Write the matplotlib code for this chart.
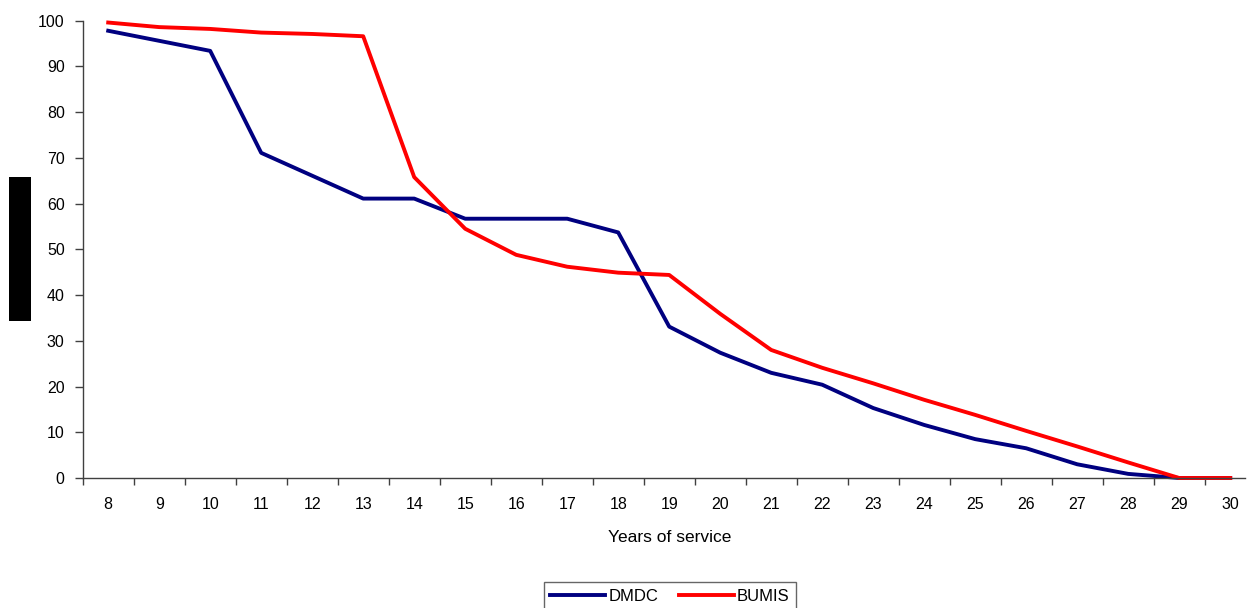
import matplotlib
matplotlib.use("Agg")
import matplotlib.pyplot as plt
from matplotlib.patches import Rectangle

years = [str(y) for y in range(8, 31)]
dmdc = [97.8, 95.6, 93.4, 71.1, 66.1, 61.1, 61.1, 56.7, 56.7, 56.7, 53.7, 33.1,
        27.4, 23.0, 20.4, 15.3, 11.6, 8.5, 6.5, 3.0, 0.9, 0.0, 0.0]
bumis = [99.6, 98.6, 98.2, 97.4, 97.1, 96.6, 65.8, 54.5, 48.8, 46.2, 44.9, 44.4,
         35.9, 28.0, 24.1, 20.7, 17.1, 13.8, 10.3, 6.9, 3.4, 0.0, 0.0]
yticks = list(range(0, 101, 10))

plt.rcParams['font.family'] = ['Liberation Sans', 'DejaVu Sans']

W, H = 1252, 608
fig = plt.figure(figsize=(W / 100, H / 100), dpi=100)
left, right, top, bottom = 82.7, 1245, 20.7, 478
ax = fig.add_axes([left / W, 1 - bottom / H, (right - left) / W, (bottom - top) / H])

x = list(range(len(years)))
ax.plot(x, dmdc, color='#000080', lw=2.8, label='DMDC', clip_on=False, solid_joinstyle='round')
ax.plot(x, bumis, color='#FF0000', lw=2.8, label='BUMIS', clip_on=False, solid_joinstyle='round')

ax.set_yticks(yticks)
ax.set_yticklabels([str(v) for v in yticks], fontsize=11.5)
ax.set_xticks(x)
ax.set_xticklabels(years, fontsize=11.5)
ax.set_xticks([i - 0.5 for i in range(len(years) + 1)], minor=True)
ax.set_ylim(0, 100)
ax.set_xlim(-0.5, 22.29)
ax.tick_params(axis='x', which='major', length=0, pad=14)
ax.tick_params(axis='x', which='minor', length=5, width=1, color='#404040')
ax.tick_params(axis='y', length=6, width=1, color='#404040', pad=7)

for s in ['top', 'right']:
    ax.spines[s].set_visible(False)
for s in ['left', 'bottom']:
    ax.spines[s].set_color('#404040')
    ax.spines[s].set_linewidth(1)

fig.text(670 / W, 1 - 537 / H, 'Years of service', ha='center', va='center', fontsize=12.5)

fig.patches.append(Rectangle((9 / W, 1 - 321 / H), 22 / W, 144 / H,
                             transform=fig.transFigure, facecolor='black', edgecolor='none'))

leg = fig.legend(loc='upper center', bbox_to_anchor=(670 / W, 1 - 574 / H), ncol=2,
                 fontsize=12, frameon=True, fancybox=False, edgecolor='#404040',
                 handlelength=3.3, columnspacing=1.2, handletextpad=0.2, borderpad=0.4)
leg.get_frame().set_linewidth(1)

fig.savefig('out.png', dpi=100)
